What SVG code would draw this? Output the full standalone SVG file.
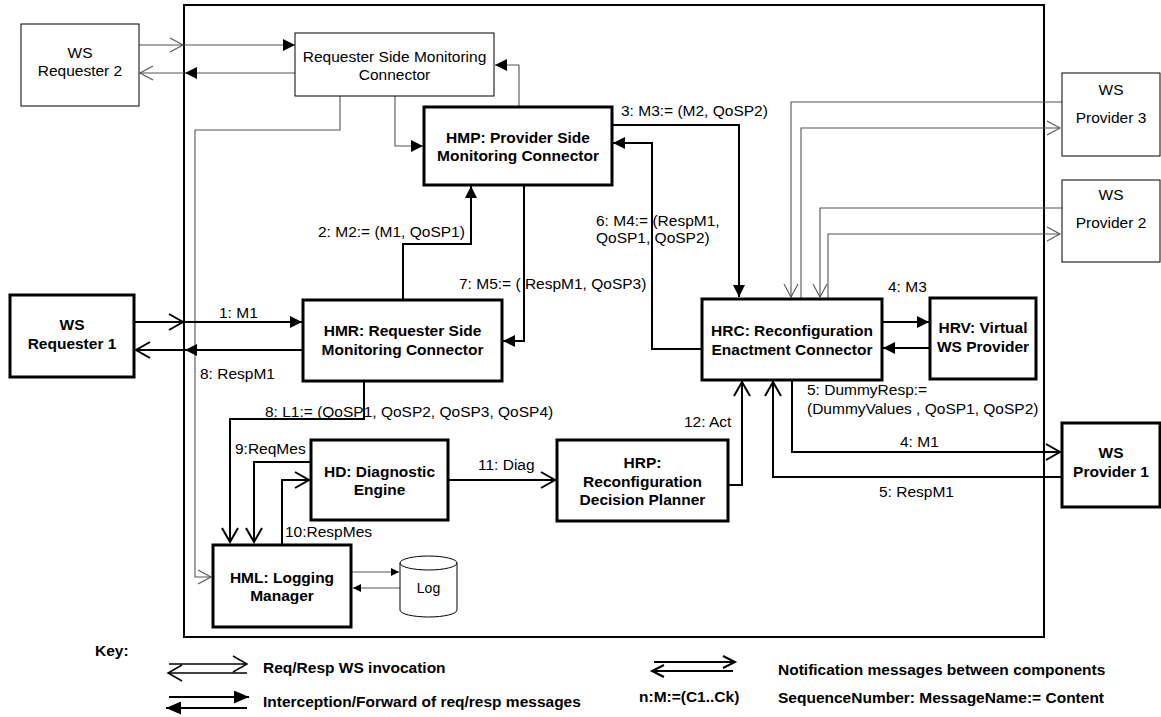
<svg xmlns="http://www.w3.org/2000/svg" width="1161" height="717" viewBox="0 0 1161 717">
<style>
text{font-family:"Liberation Sans",Arial,sans-serif;font-size:15.5px;fill:#000}
.b{font-weight:bold}
.c{text-anchor:middle}
.thin{fill:#fff;stroke:#000;stroke-width:1}
.thick{fill:#fff;stroke:#000;stroke-width:3}
.g{fill:none;stroke:#555;stroke-width:1.1}
.k{fill:none;stroke:#000;stroke-width:2}
.k15{fill:none;stroke:#000;stroke-width:1.5}
</style>
<defs>
<marker id="fa" viewBox="0 0 12 12" refX="12" refY="6" markerWidth="12" markerHeight="12" orient="auto" markerUnits="userSpaceOnUse"><path d="M0,0 L12,6 L0,12 z" fill="#000"/></marker>
<marker id="fs" viewBox="0 0 8 8" refX="8" refY="4" markerWidth="8" markerHeight="8" orient="auto" markerUnits="userSpaceOnUse"><path d="M0,0 L8,4 L0,8 z" fill="#000"/></marker>
<marker id="fk" viewBox="0 0 15 13" refX="15" refY="6.5" markerWidth="15" markerHeight="13" orient="auto" markerUnits="userSpaceOnUse"><path d="M0,0 L15,6.5 L0,13 z" fill="#000"/></marker>
<marker id="ot" viewBox="0 0 15 16" refX="14" refY="8" markerWidth="15" markerHeight="16" orient="auto" markerUnits="userSpaceOnUse" style="overflow:visible"><path d="M0,0 L14,8 L0,16" fill="none" stroke="#000" stroke-width="2"/></marker>
<marker id="og" viewBox="0 0 14 16" refX="13" refY="8" markerWidth="14" markerHeight="16" orient="auto" markerUnits="userSpaceOnUse" style="overflow:visible"><path d="M0,0 L13,7 L0,14" fill="none" stroke="#555" stroke-width="1.1" transform="translate(0,1)"/></marker>
<marker id="ok" viewBox="0 0 15 16" refX="14" refY="8" markerWidth="15" markerHeight="16" orient="auto" markerUnits="userSpaceOnUse" style="overflow:visible"><path d="M0,0 L14,8 L0,16" fill="none" stroke="#000" stroke-width="1.5"/></marker>
<marker id="on" viewBox="0 0 12 12" refX="12" refY="6" markerWidth="12" markerHeight="12" orient="auto" markerUnits="userSpaceOnUse" style="overflow:visible"><path d="M0,0 L12,6 L0,12" fill="none" stroke="#000" stroke-width="2"/></marker>
</defs>

<rect id="system" x="184" y="5" width="860" height="632" fill="none" stroke="#000" stroke-width="2"/>

<g id="connectors">
<path class="g" d="M139,45 L183,45" marker-end="url(#og)"/>
<path class="g" d="M184,45 L295,45" marker-end="url(#fa)"/>
<path class="g" d="M295,73 L185,73" marker-end="url(#fa)"/>
<path class="g" d="M184,73 L140,73" marker-end="url(#og)"/>
<path class="g" d="M340,96 L340,130 L195,130 L195,577 L211,577" marker-end="url(#og)"/>
<path class="g" d="M395,96 L395,146 L423,146" marker-end="url(#fa)"/>
<path class="g" d="M519,107 L519,65 L495,65" marker-end="url(#fa)"/>
<path class="g" d="M1062,102 L791,102 L791,297" marker-end="url(#og)"/>
<path class="g" d="M801,298 L801,128 L1060,128" marker-end="url(#og)"/>
<path class="g" d="M1062,208 L820,208 L820,297" marker-end="url(#og)"/>
<path class="g" d="M828,298 L828,234 L1060,234" marker-end="url(#og)"/>
<path class="g" d="M352,572 L399,572" marker-end="url(#fs)"/>
<path class="g" d="M400,588 L353,588" marker-end="url(#fs)"/>

<path class="k" d="M134,322 L183,322" marker-end="url(#ot)"/>
<path class="k" d="M184,322 L302,322" marker-end="url(#fa)"/>
<path class="k" d="M303,350 L185,350" marker-end="url(#fa)"/>
<path class="k" d="M184,350 L136,350" marker-end="url(#ot)"/>
<path class="k" d="M403,300 L403,244 L471,244 L471,186" marker-end="url(#fa)"/>
<path class="k" d="M612,125 L739,125 L739,297" marker-end="url(#fa)"/>
<path class="k" d="M702,349 L652,349 L652,143 L613,143" marker-end="url(#fa)"/>
<path class="k" d="M524,185 L524,341 L503,341" marker-end="url(#fa)"/>
<path class="k" d="M364,381 L364,419 L230,419 L230,542" marker-end="url(#ot)"/>
<path class="k" d="M311,462 L254,462 L254,542" marker-end="url(#ot)"/>
<path class="k" d="M282,545 L282,480 L309,480" marker-end="url(#ot)"/>
<path class="k" d="M448,480 L555,480" marker-end="url(#ot)"/>
<path class="k" d="M728,485 L742,485 L742,382" marker-end="url(#ot)"/>
<path class="k" d="M882,322 L929,322" marker-end="url(#fa)"/>
<path class="k" d="M930,348 L883,348" marker-end="url(#fa)"/>
<path class="k" d="M792,380 L792,452 L1060,452" marker-end="url(#ot)"/>
<path class="k" d="M1062,477 L773,477 L773,382" marker-end="url(#ot)"/>
</g>

<g id="ws-requester-2"><rect class="thin" x="21" y="24" width="118" height="82"/><text class="c" x="80" y="58">WS</text><text class="c" x="80" y="76">Requester 2</text></g>
<g id="rsmc"><rect class="thin" x="295" y="33" width="199" height="63"/><text class="c" x="394.5" y="62">Requester Side Monitoring</text><text class="c" x="394.5" y="80">Connector</text></g>
<g id="hmp"><rect class="thick" x="424" y="107" width="188" height="78"/><text class="c b" x="518" y="143">HMP: Provider Side</text><text class="c b" x="518" y="161">Monitoring Connector</text></g>
<g id="hmr"><rect class="thick" x="303" y="300" width="199" height="81"/><text class="c b" x="402.5" y="336">HMR: Requester Side</text><text class="c b" x="402.5" y="355">Monitoring Connector</text></g>
<g id="ws-requester-1"><rect class="thick" x="10" y="295" width="124" height="82"/><text class="c b" x="72" y="330">WS</text><text class="c b" x="72" y="349">Requester 1</text></g>
<g id="hd"><rect class="thick" x="311" y="440" width="137" height="80"/><text class="c b" x="379.5" y="477">HD: Diagnostic</text><text class="c b" x="379.5" y="495">Engine</text></g>
<g id="hml"><rect class="thick" x="213" y="545" width="138" height="82"/><text class="c b" x="282" y="583">HML: Logging</text><text class="c b" x="282" y="601">Manager</text></g>
<g id="log"><path class="thin" d="M400,563 A28.5,7 0 0 1 457,563 L457,610 A28.5,7 0 0 1 400,610 Z"/><path d="M400,563 A28.5,7 0 0 0 457,563" fill="none" stroke="#000" stroke-width="1"/><text class="c" x="428.5" y="593" style="font-size:14px">Log</text></g>
<g id="hrp"><rect class="thick" x="557" y="440" width="171" height="81"/><text class="c b" x="642.5" y="468">HRP:</text><text class="c b" x="642.5" y="487">Reconfiguration</text><text class="c b" x="642.5" y="505">Decision Planner</text></g>
<g id="hrc"><rect class="thick" x="702" y="299" width="180" height="81"/><text class="c b" x="792" y="336">HRC: Reconfiguration</text><text class="c b" x="792" y="355">Enactment Connector</text></g>
<g id="hrv"><rect class="thick" x="930" y="298" width="106" height="81"/><text class="c b" x="983" y="333">HRV: Virtual</text><text class="c b" x="983" y="352">WS Provider</text></g>
<g id="ws-provider-3"><rect class="thin" x="1062" y="73" width="98" height="83"/><text class="c" x="1111" y="95">WS</text><text class="c" x="1111" y="123">Provider 3</text></g>
<g id="ws-provider-2"><rect class="thin" x="1062" y="180" width="98" height="82"/><text class="c" x="1111" y="200">WS</text><text class="c" x="1111" y="228">Provider 2</text></g>
<g id="ws-provider-1"><rect class="thick" x="1062" y="423" width="98" height="84"/><text class="c b" x="1111" y="458">WS</text><text class="c b" x="1111" y="477">Provider 1</text></g>

<g id="labels">
<text x="219" y="318">1: M1</text>
<text x="200" y="379">8: RespM1</text>
<text x="318" y="237">2: M2:= (M1, QoSP1)</text>
<text x="621" y="116">3: M3:= (M2, QoSP2)</text>
<text x="596" y="226">6: M4:= (RespM1,</text>
<text x="596" y="243">QoSP1, QoSP2)</text>
<text x="459" y="289">7: M5:= ( RespM1, QoSP3)</text>
<text x="265" y="417">8: L1:= (QoSP1, QoSP2, QoSP3, QoSP4)</text>
<text x="235" y="454">9:ReqMes</text>
<text x="285" y="537">10:RespMes</text>
<text x="478" y="470">11: Diag</text>
<text x="684" y="427">12: Act</text>
<text x="888" y="292">4: M3</text>
<text x="807" y="395">5: DummyResp:=</text>
<text x="807" y="414">(DummyValues , QoSP1, QoSP2)</text>
<text x="900" y="447">4: M1</text>
<text x="879" y="497">5: RespM1</text>
</g>

<g id="key">
<text class="b" x="95" y="656">Key:</text>
<path class="k15" d="M169,664 L247,664" marker-end="url(#ok)"/>
<path class="k15" d="M247,673 L168,673" marker-end="url(#ok)"/>
<text class="b" x="263" y="673">Req/Resp WS invocation</text>
<path class="k" d="M169,697 L249,697" marker-end="url(#fk)"/>
<path class="k" d="M247,708 L166,708" marker-end="url(#fk)"/>
<text class="b" x="263" y="707">Interception/Forward of req/resp messages</text>
<path class="k" d="M654,662 L735,662" marker-end="url(#on)"/>
<path class="k" d="M733,671 L652,671" marker-end="url(#on)"/>
<text class="b" x="778" y="675">Notification messages between components</text>
<text class="b" x="639" y="702">n:M:=(C1..Ck)</text>
<text class="b" x="778" y="703">SequenceNumber: MessageName:= Content</text>
</g>
</svg>
